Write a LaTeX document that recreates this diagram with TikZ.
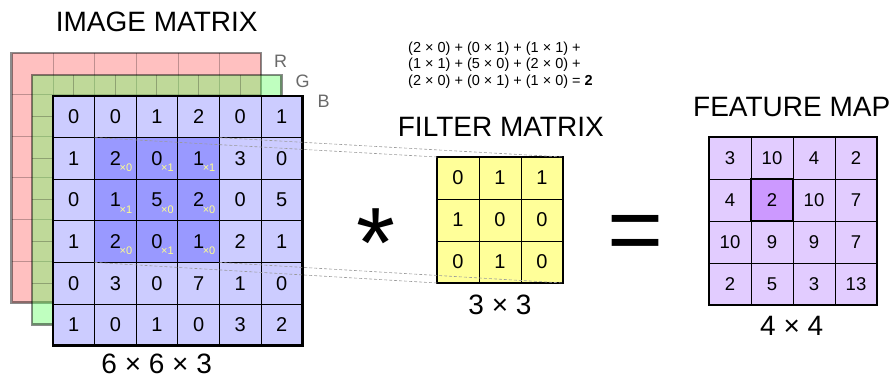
\documentclass[tikz,border=0pt]{standalone}
\usepackage{fontspec}
\setmainfont{Liberation Sans}
\definecolor{redlayer}{RGB}{255,192,192}
\definecolor{greenlayer}{RGB}{95,255,95}
\definecolor{bluecell}{RGB}{204,204,255}
\definecolor{bluehi}{RGB}{153,153,255}
\definecolor{filtercell}{RGB}{255,255,153}
\definecolor{featcell}{RGB}{226,204,255}
\definecolor{feathi}{RGB}{204,153,255}
\definecolor{weightyellow}{RGB}{255,255,140}
\definecolor{changray}{RGB}{105,105,105}

\begin{document}
\begin{tikzpicture}[x=1pt, y=-1pt,
		cell/.style={draw, line width=0.8pt, inner sep=0pt, outer sep=0pt, minimum size=41.6pt, font=\fontsize{20}{24}\selectfont},
		fcell/.style={cell, minimum size=42pt},
		mcell/.style={fcell, font=\fontsize{18.5}{22}\selectfont},
		gridline/.style={black, opacity=0.25, line width=0.8pt},
		layerborder/.style={black, opacity=0.45, line width=2.5pt},
		frame/.style={line width=2.8pt},
		window/.style={line width=1.5pt},
		weight/.style={text=weightyellow, font=\fontsize{11}{13}\selectfont, inner sep=0pt, anchor=west},
		title/.style={font=\fontsize{28}{32}\selectfont, inner sep=0pt},
		chan/.style={text=changray, font=\fontsize{18}{20}\selectfont, inner sep=0pt},
		guide/.style={dashed, dash pattern=on 3pt off 2pt, gray!80, line width=0.6pt}]
	\useasboundingbox (0,0) rectangle (896,379);

	% R channel
	\fill[redlayer] (11.5,53) rectangle +(249.6,249.6);
	\foreach \i in {1,...,5} {
		\draw[gridline] (11.5+41.6*\i,53) -- ++(0,249.6);
		\draw[gridline] (11.5,53+41.6*\i) -- ++(249.6,0);
	}
	\draw[layerborder] (11.5,53) rectangle +(249.6,249.6);

	% G channel
	\fill[greenlayer, fill opacity=0.4] (32,75) rectangle +(249.6,249.6);
	\foreach \i in {1,...,5} {
		\draw[gridline] (32+41.6*\i,75) -- ++(0,249.6);
		\draw[gridline] (32,75+41.6*\i) -- ++(249.6,0);
	}
	\draw[layerborder] (32,75) rectangle +(249.6,249.6);

	% B channel with the values
	\foreach \row [count=\r from 0] in {{0,0,1,2,0,1},{1,2,0,1,3,0},{0,1,5,2,0,5},{1,2,0,1,2,1},{0,3,0,7,1,0},{1,0,1,0,3,2}} {
		\foreach \v [count=\c from 0] in \row {
			\pgfmathtruncatemacro\hi{(\r>0)&&(\r<4)&&(\c>0)&&(\c<4)}
			\ifnum\hi=1 \def\cellfill{bluehi}\else\def\cellfill{bluecell}\fi
			\node[cell, fill=\cellfill] (img-\r-\c) at (73.8+41.6*\c, 116.8+41.6*\r) {\v};
		}
	}
	\draw[frame] (img-0-0.north west) rectangle (img-5-5.south east);
	\draw[window] (img-1-1.north west) rectangle (img-3-3.south east);

	% weights under the window
	\foreach \w [count=\k from 0] in {0,1,1,1,0,0,0,1,0} {
		\pgfmathtruncatemacro\r{int(\k/3)+1}
		\pgfmathtruncatemacro\c{mod(\k,3)+1}
		\node[weight, xshift=4pt, yshift=-9.5pt] (w-\r-\c) at (img-\r-\c.center) {×\w};
	}

	\node[chan] (lbl-r) at (280.5,61.5) {R};
	\node[chan] (lbl-g) at (302.5,81.5) {G};
	\node[chan] (lbl-b) at (323.5,101.5) {B};
	\node[title] (img-title) at (156.7,21.7) {IMAGE MATRIX};
	\node[title] (img-size) at (156.7,364) {6 × 6 × 3};

	% Filter
	\foreach \row [count=\r from 0] in {{0,1,1},{1,0,0},{0,1,0}} {
		\foreach \v [count=\c from 0] in \row {
			\node[fcell, fill=filtercell] (fil-\r-\c) at (458+42*\c, 178+42*\r) {\v};
		}
	}
	\draw[frame] (fil-0-0.north west) rectangle (fil-2-2.south east);
	\node[title] (fil-title) at (500.8,126.7) {FILTER MATRIX};
	\node[title] (fil-size) at (500,305) {3 × 3};
	\node[font=\fontsize{14.5}{16.7}\selectfont, align=left, inner sep=0pt, anchor=west] (sum) at (408,65)
		{(2 × 0) + (0 × 1) + (1 × 1) +\\(1 × 1) + (5 × 0) + (2 × 0) +\\(2 × 0) + (0 × 1) + (1 × 0) = \textbf{2}};

	% Operators
	\node[font=\fontsize{100}{110}\selectfont, inner sep=0pt, anchor=base] (conv) at (375.5,277) {*};
	\node[font=\fontsize{96}{100}\selectfont, inner sep=0pt, anchor=base] (eq) at (635.5,262) {=};

	% Feature map
	\foreach \row [count=\r from 0] in {{3,10,4,2},{4,2,10,7},{10,9,9,7},{2,5,3,13}} {
		\foreach \v [count=\c from 0] in \row {
			\pgfmathtruncatemacro\hi{(\r==1)&&(\c==1)}
			\ifnum\hi=1 \def\cellfill{feathi}\else\def\cellfill{featcell}\fi
			\node[mcell, fill=\cellfill] (map-\r-\c) at (730+42*\c, 158+42*\r) {\v};
		}
	}
	\draw[frame] (map-0-0.north west) rectangle (map-3-3.south east);
	\draw[window] (map-1-1.north west) rectangle (map-1-1.south east);
	\node[title] (map-title) at (791.7,106.7) {FEATURE MAP};
	\node[title] (map-size) at (791.7,326) {4 × 4};

	% Projection of the window
	\draw[guide] (img-1-1.north west) -- (fil-0-0.north west);
	\draw[guide] (img-1-3.north east) -- (fil-0-2.north east);
	\draw[guide] (img-3-1.south west) -- (fil-2-0.south west);
	\draw[guide] (img-3-3.south east) -- (fil-2-2.south east);
\end{tikzpicture}
\end{document}
